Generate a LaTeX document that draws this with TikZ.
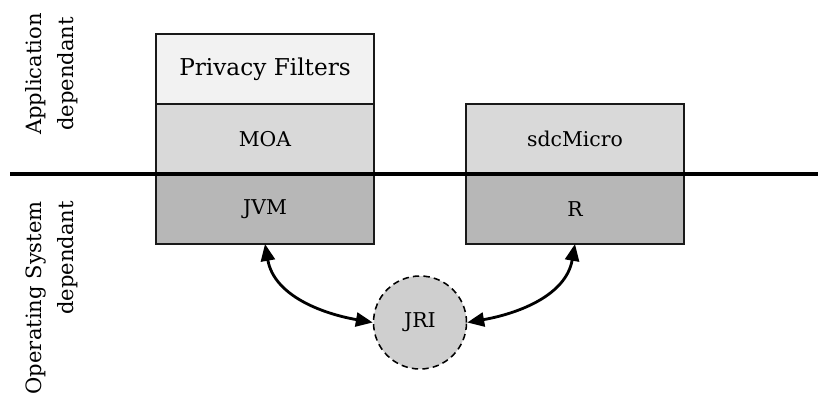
\documentclass[tikz,border=0pt]{standalone}
\usepackage{fontspec}
\setmainfont{DejaVu Serif}
\usetikzlibrary{positioning,arrows.meta}

\definecolor{lightfill}{HTML}{F2F2F2}
\definecolor{midfill}{HTML}{D9D9D9}
\definecolor{darkfill}{HTML}{B7B7B7}
\definecolor{jrifill}{HTML}{CFCFCF}

\tikzset{
    layer/.style={draw=black!90, line width=1pt, minimum width=5.45cm,
        minimum height=1.75cm, inner sep=0pt, outer sep=0pt,
        font=\fontsize{14.5}{17}\selectfont},
    side/.style={rotate=90, inner sep=0pt, font=\fontsize{15}{23}\selectfont},
    link/.style={line width=2pt, {Triangle[length=12pt,width=10pt]}-{Triangle[length=12pt,width=10pt]}}
}

\begin{document}
\begin{tikzpicture}
    \useasboundingbox (0,0) rectangle (20.45,9.925);

    % left stack
    \node [layer, fill=darkfill] (jvm) at (6.625,4.7) {JVM};
    \node [layer, fill=midfill, above=0pt of jvm] (moa) {MOA};
    \node [layer, fill=lightfill, above=0pt of moa,
        font=\fontsize{16.5}{19}\selectfont] (filters) {Privacy Filters};

    % right stack
    \node [layer, fill=darkfill] (r) at (14.375,4.7) {R};
    \node [layer, fill=midfill, above=0pt of r] (sdc) {sdcMicro};

    \draw [line width=2.8pt] (0.25,5.575) -- (20.45,5.575);   % split line

    \node [side, align=center] (appl) at (1.3,8.075) {Application\\dependant};
    \node [side, align=right, anchor=east] (os) at (1.3,4.9) {Operating System\\dependant};

    \node [circle, draw, dashed, dash pattern=on 4.5pt off 3pt, line width=1.1pt,
        fill=jrifill, minimum size=2.325cm, inner sep=0pt,
        font=\fontsize{14.5}{17}\selectfont] (jri) at (10.5,1.8625) {JRI};

    \draw [link] (jvm.south) to [out=-80, in=170] (jri.west);
    \draw [link] (r.south) to [out=-100, in=10] (jri.east);
\end{tikzpicture}
\end{document}
